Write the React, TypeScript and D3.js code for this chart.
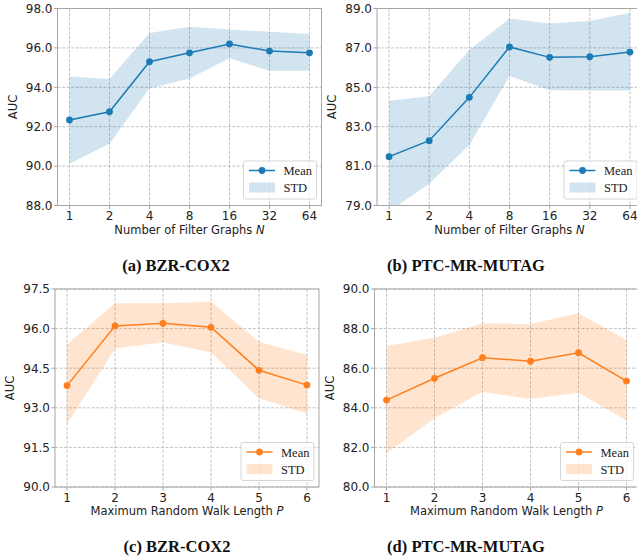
import React, { useEffect, useRef } from 'react';
import * as d3 from 'd3';

// x tick labels
const filterLabels = ['1', '2', '4', '8', '16', '32', '64'];
const walkLabels = ['1', '2', '3', '4', '5', '6'];

// (a) BZR-COX2, number of filter graphs
const bzrFilterMean = [92.34, 92.76, 95.3, 95.75, 96.2, 95.84, 95.75];
const bzrFilterUpper = [94.55, 94.42, 96.76, 97.07, 96.94, 96.82, 96.7];
const bzrFilterLower = [90.12, 91.13, 93.95, 94.45, 95.47, 94.84, 94.84];

// (b) PTC-MR-MUTAG, number of filter graphs
const ptcFilterMean = [81.48, 82.29, 84.49, 87.05, 86.52, 86.55, 86.79];
const ptcFilterUpper = [84.32, 84.55, 86.89, 88.49, 88.24, 88.36, 88.78];
const ptcFilterLower = [78.7, 80.1, 82.07, 85.57, 84.85, 84.84, 84.84];

// (c) BZR-COX2, max random walk length
const bzrWalkMean = [93.84, 96.1, 96.2, 96.05, 94.42, 93.86];
const bzrWalkUpper = [95.4, 96.96, 96.96, 97.02, 95.5, 95.0];
const bzrWalkLower = [92.39, 95.25, 95.48, 95.09, 93.36, 92.77];

// (d) PTC-MR-MUTAG, max random walk length
const ptcWalkMean = [84.39, 85.49, 86.53, 86.35, 86.78, 85.35];
const ptcWalkUpper = [87.12, 87.54, 88.27, 88.23, 88.77, 87.42];
const ptcWalkLower = [81.71, 83.47, 84.81, 84.44, 84.76, 83.35];

const blue = '#1b7bb4';
const blueBand = '#1f77b4';
const orange = '#ff7f1e';
const orangeBand = '#ff7f0e';

type Panel = {
  id: string;
  box: { left: number; right: number; top: number; bottom: number };
  labels: string[];
  mean: number[];
  upper: number[];
  lower: number[];
  yDomain: [number, number];
  yStep: number;
  line: string;
  band: string;
  xLabel: string;
  xVar: string;
  caption: string;
  captionX: number;
};

const panels: Panel[] = [
  {
    id: 'a',
    box: { left: 57.5, right: 321.5, top: 8.5, bottom: 205.5 },
    labels: filterLabels,
    mean: bzrFilterMean,
    upper: bzrFilterUpper,
    lower: bzrFilterLower,
    yDomain: [88, 98],
    yStep: 2,
    line: blue,
    band: blueBand,
    xLabel: 'Number of Filter Graphs ',
    xVar: 'N',
    caption: '(a) BZR-COX2',
    captionX: 176,
  },
  {
    id: 'b',
    box: { left: 377, right: 642, top: 8.5, bottom: 205.5 },
    labels: filterLabels,
    mean: ptcFilterMean,
    upper: ptcFilterUpper,
    lower: ptcFilterLower,
    yDomain: [79, 89],
    yStep: 2,
    line: blue,
    band: blueBand,
    xLabel: 'Number of Filter Graphs ',
    xVar: 'N',
    caption: '(b) PTC-MR-MUTAG',
    captionX: 466,
  },
  {
    id: 'c',
    box: { left: 55, right: 319, top: 289, bottom: 487 },
    labels: walkLabels,
    mean: bzrWalkMean,
    upper: bzrWalkUpper,
    lower: bzrWalkLower,
    yDomain: [90, 97.5],
    yStep: 1.5,
    line: orange,
    band: orangeBand,
    xLabel: 'Maximum Random Walk Length ',
    xVar: 'P',
    caption: '(c) BZR-COX2',
    captionX: 177,
  },
  {
    id: 'd',
    box: { left: 374.5, right: 638.5, top: 289, bottom: 487 },
    labels: walkLabels,
    mean: ptcWalkMean,
    upper: ptcWalkUpper,
    lower: ptcWalkLower,
    yDomain: [80, 90],
    yStep: 2,
    line: orange,
    band: orangeBand,
    xLabel: 'Maximum Random Walk Length ',
    xVar: 'P',
    caption: '(d) PTC-MR-MUTAG',
    captionX: 466,
  },
];

const sans = 'DejaVu Sans, sans-serif';
const serif = 'Liberation Serif, Times New Roman, serif';

function drawPanel(svg: d3.Selection<SVGSVGElement, unknown, null, undefined>, p: Panel) {
  const { left, right, top, bottom } = p.box;
  const n = p.labels.length;
  const pad = (n - 1) * 0.05;

  const x = d3.scaleLinear().domain([-pad, n - 1 + pad]).range([left, right]);
  const y = d3.scaleLinear().domain(p.yDomain).range([bottom, top]);
  const yTicks = d3.range(p.yDomain[0], p.yDomain[1] + 1e-6, p.yStep);
  const idx = d3.range(n);

  const g = svg.append('g');

  g.append('clipPath')
    .attr('id', `clip-${p.id}`)
    .append('rect')
    .attr('x', left)
    .attr('y', top)
    .attr('width', right - left)
    .attr('height', bottom - top);

  // grid
  const grid = g.append('g').attr('stroke', '#b3b3b3').attr('stroke-width', 0.8).attr('stroke-dasharray', '3,1.6');
  grid
    .selectAll('line.v')
    .data(idx)
    .enter()
    .append('line')
    .attr('x1', (d) => x(d))
    .attr('x2', (d) => x(d))
    .attr('y1', top)
    .attr('y2', bottom);
  grid
    .selectAll('line.h')
    .data(yTicks)
    .enter()
    .append('line')
    .attr('x1', left)
    .attr('x2', right)
    .attr('y1', (d) => y(d))
    .attr('y2', (d) => y(d));

  const plot = g.append('g').attr('clip-path', `url(#clip-${p.id})`);

  // std band
  const area = d3
    .area<number>()
    .x((d) => x(d))
    .y0((d) => y(p.lower[d]))
    .y1((d) => y(p.upper[d]));
  plot.append('path').datum(idx).attr('d', area).attr('fill', p.band).attr('fill-opacity', 0.2);

  // mean line
  const line = d3
    .line<number>()
    .x((d) => x(d))
    .y((d) => y(p.mean[d]));
  plot
    .append('path')
    .datum(idx)
    .attr('d', line)
    .attr('fill', 'none')
    .attr('stroke', p.line)
    .attr('stroke-width', 1.5);
  plot
    .selectAll('circle')
    .data(idx)
    .enter()
    .append('circle')
    .attr('cx', (d) => x(d))
    .attr('cy', (d) => y(p.mean[d]))
    .attr('r', 3.4)
    .attr('fill', p.line);

  // frame
  g.append('rect')
    .attr('x', left)
    .attr('y', top)
    .attr('width', right - left)
    .attr('height', bottom - top)
    .attr('fill', 'none')
    .attr('stroke', '#a6a6a6')
    .attr('stroke-width', 1);

  // y axis ticks + labels
  yTicks.forEach((t) => {
    g.append('line')
      .attr('x1', left - 3.5)
      .attr('x2', left)
      .attr('y1', y(t))
      .attr('y2', y(t))
      .attr('stroke', '#a6a6a6');
    g.append('text')
      .attr('x', left - 5)
      .attr('y', y(t))
      .attr('dy', '0.36em')
      .attr('text-anchor', 'end')
      .attr('font-family', sans)
      .attr('font-size', 12)
      .attr('fill', '#222')
      .text(d3.format('.1f')(t));
  });

  // x axis ticks + labels
  idx.forEach((i) => {
    g.append('line')
      .attr('x1', x(i))
      .attr('x2', x(i))
      .attr('y1', bottom)
      .attr('y2', bottom + 3.5)
      .attr('stroke', '#a6a6a6');
    g.append('text')
      .attr('x', x(i))
      .attr('y', bottom + 14.5)
      .attr('text-anchor', 'middle')
      .attr('font-family', sans)
      .attr('font-size', 12)
      .attr('fill', '#222')
      .text(p.labels[i]);
  });

  // axis titles
  const xt = g
    .append('text')
    .attr('x', (left + right) / 2)
    .attr('y', bottom + 28)
    .attr('text-anchor', 'middle')
    .attr('font-family', sans)
    .attr('font-size', 11.5)
    .attr('fill', '#222');
  xt.append('tspan').text(p.xLabel);
  xt.append('tspan').attr('font-style', 'italic').text(p.xVar);

  g.append('text')
    .attr('transform', `translate(${left - 41},${(top + bottom) / 2}) rotate(-90)`)
    .attr('text-anchor', 'middle')
    .attr('font-family', sans)
    .attr('font-size', 11.5)
    .attr('fill', '#222')
    .text('AUC');

  // legend
  const lw = 73;
  const lh = 38;
  const lx = Math.min(right, 642) - 5 - lw;
  const ly = bottom - 6.5 - lh;
  const leg = g.append('g').attr('transform', `translate(${lx},${ly})`);
  leg
    .append('rect')
    .attr('width', lw)
    .attr('height', lh)
    .attr('rx', 2)
    .attr('fill', 'white')
    .attr('fill-opacity', 0.8)
    .attr('stroke', '#cccccc')
    .attr('stroke-width', 0.8);
  leg
    .append('line')
    .attr('x1', 5.5)
    .attr('x2', 31.5)
    .attr('y1', 9.5)
    .attr('y2', 9.5)
    .attr('stroke', p.line)
    .attr('stroke-width', 1.5);
  leg.append('circle').attr('cx', 18.5).attr('cy', 9.5).attr('r', 3.4).attr('fill', p.line);
  leg
    .append('rect')
    .attr('x', 5.5)
    .attr('y', 21.5)
    .attr('width', 26)
    .attr('height', 10)
    .attr('fill', p.band)
    .attr('fill-opacity', 0.2);
  leg
    .append('text')
    .attr('x', 40)
    .attr('y', 14)
    .attr('font-family', serif)
    .attr('font-size', 12.5)
    .attr('fill', '#222')
    .text('Mean');
  leg
    .append('text')
    .attr('x', 40)
    .attr('y', 31.2)
    .attr('font-family', serif)
    .attr('font-size', 12.5)
    .attr('fill', '#222')
    .text('STD');

  // caption
  svg
    .append('text')
    .attr('x', p.captionX)
    .attr('y', bottom + 65)
    .attr('text-anchor', 'middle')
    .attr('font-family', serif)
    .attr('font-weight', 'bold')
    .attr('font-size', 16.5)
    .attr('fill', '#111')
    .text(p.caption);
}

const App: React.FC = () => {
  const svgRef = useRef<SVGSVGElement | null>(null);

  useEffect(() => {
    if (!svgRef.current) return;
    const svg = d3.select(svgRef.current);
    svg.selectAll('*').remove();
    panels.forEach((p) => drawPanel(svg, p));
  }, []);

  return (
    <svg
      ref={svgRef}
      width={637}
      height={560}
      style={{ position: 'absolute', left: 0, top: 0, background: 'white' }}
    />
  );
};

export default App;
